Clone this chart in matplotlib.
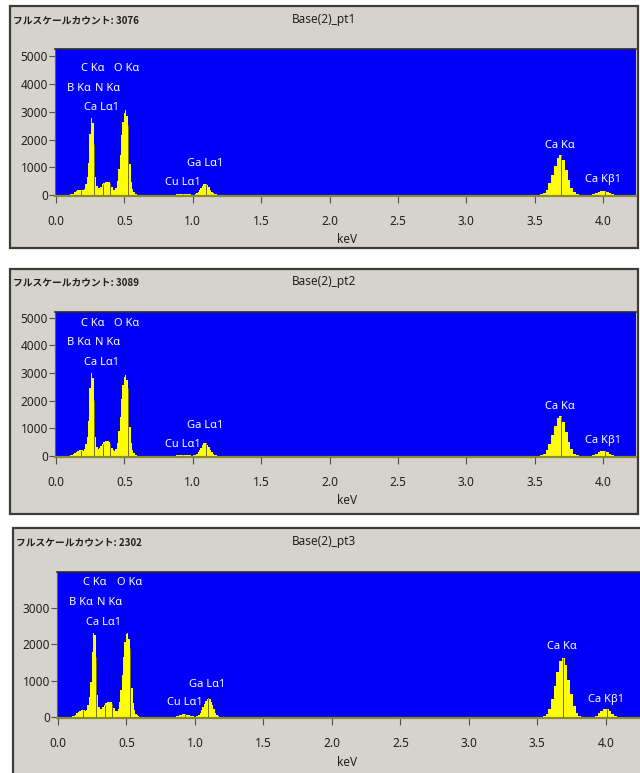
import numpy as np
import matplotlib
matplotlib.use('Agg')
import matplotlib.pyplot as plt
from matplotlib.patches import Rectangle

# spectrum channels (keV) -- four regions where the spectrum is above zero
E_A = np.round(0.10 + 0.01 * np.arange(51), 2)   # 0.10 .. 0.60
E_B = np.round(0.86 + 0.01 * np.arange(35), 2)   # 0.86 .. 1.20
E_C = np.round(3.53 + 0.02 * np.arange(16), 2)   # 3.53 .. 3.83
E_D = np.round(3.91 + 0.02 * np.arange(10), 2)   # 3.91 .. 4.09

# counts, pt1
pt1_A = [10, 15, 30, 50, 90, 140, 170, 180, 190, 180,
         170, 220, 380, 650, 1150, 2200, 2780, 2600, 1500, 650,
         320, 250, 260, 300, 380, 430, 470, 480, 480, 450,
         380, 270, 190, 170, 260, 500, 950, 1450, 2150, 2650,
         2950, 3060, 2850, 2200, 1100, 480, 230, 110, 50, 20, 5]
pt1_B = [0, 10, 20, 30, 40, 45, 50, 50, 45, 40, 30, 25, 15, 10, 5,
         10, 30, 60, 110, 180, 260, 330, 380, 400, 390, 340, 270, 190,
         120, 70, 35, 15, 5, 0, 0]
pt1_C = [5, 20, 70, 190, 420, 720, 1050, 1350, 1440, 1250, 900, 540, 260, 90, 25, 5]
pt1_D = [5, 25, 70, 120, 150, 150, 115, 65, 20, 5]

# counts, pt2
pt2_A = [15, 25, 40, 70, 110, 150, 180, 200, 210, 200,
         190, 240, 420, 700, 1250, 2450, 3000, 2800, 1700, 700,
         330, 260, 280, 340, 430, 490, 530, 540, 540, 500,
         420, 290, 200, 170, 250, 480, 900, 1400, 2050, 2550,
         2850, 2920, 2750, 2150, 1050, 470, 220, 100, 45, 15, 5]
pt2_B = [0, 10, 20, 30, 40, 45, 45, 45, 40, 35, 30, 20, 15, 10, 5,
         15, 35, 70, 130, 210, 300, 390, 450, 480, 470, 410, 320, 220,
         140, 80, 40, 15, 5, 0, 0]
pt2_C = [5, 25, 80, 200, 430, 740, 1080, 1370, 1440, 1240, 880, 520, 250, 85, 20, 5]
pt2_D = [5, 30, 85, 145, 180, 175, 130, 75, 25, 5]

# counts, pt3
pt3_A = [10, 20, 35, 60, 100, 140, 170, 190, 190, 180,
         170, 200, 330, 550, 950, 1800, 2320, 2250, 1400, 600,
         280, 220, 230, 270, 330, 380, 410, 420, 420, 400,
         340, 250, 170, 150, 220, 400, 750, 1150, 1650, 2050,
         2280, 2300, 2150, 1650, 800, 380, 180, 90, 40, 15, 5]
pt3_B = [5, 15, 30, 45, 60, 70, 70, 70, 65, 55, 45, 30, 20, 15, 10,
         15, 30, 60, 110, 180, 260, 350, 430, 490, 515, 490, 420, 320,
         210, 120, 60, 25, 10, 0, 0]
pt3_C = [5, 30, 90, 230, 490, 840, 1230, 1540, 1620, 1420, 1020, 620, 300, 100, 25, 5]
pt3_D = [5, 35, 100, 170, 205, 210, 160, 90, 30, 5]

titles = ['Base(2)_pt1', 'Base(2)_pt2', 'Base(2)_pt3']
full_scale = [3076, 3089, 2302]

# element lines (keV) and their labels
line_names = ['B Kα', 'C Kα', 'Ca Lα1', 'N Kα', 'O Kα', 'Cu Lα1', 'Ga Lα1', 'Ca Kα', 'Ca Kβ1']
line_kev = [0.183, 0.277, 0.341, 0.392, 0.525, 0.930, 1.098, 3.690, 4.012]
label_kev = [0.165, 0.27, 0.335, 0.38, 0.52, 0.925, 1.092, 3.68, 4.0]
# label heights (counts) per panel
label_y = [
    [3860, 4580, 3140, 3860, 4580, 430, 1150, 1800, 540],
    [4080, 4770, 3360, 4080, 4770, 400, 1100, 1800, 540],
    [3140, 3690, 2590, 3140, 3690, 385, 880, 1930, 470],
]

yticks = [[0, 1000, 2000, 3000, 4000, 5000],
          [0, 1000, 2000, 3000, 4000, 5000],
          [0, 1000, 2000, 3000]]
xticks = [0.0, 0.5, 1.0, 1.5, 2.0, 2.5, 3.0, 3.5, 4.0]

spectra = [(pt1_A, pt1_B, pt1_C, pt1_D),
           (pt2_A, pt2_B, pt2_C, pt2_D),
           (pt3_A, pt3_B, pt3_C, pt3_D)]

# layout in pixels (top-left origin): box, plot area, text rows
W, H = 640, 773
layout = [
    dict(box=(10, 6, 638, 248), plot=(55, 49, 636, 196), head=20, keV=240,
         xlim=(-0.007, 4.24), ylim=(-40, 5270)),
    dict(box=(10, 269, 638, 514), plot=(55, 312, 636, 457), head=282, keV=501,
         xlim=(-0.007, 4.24), ylim=(-40, 5200)),
    dict(box=(13, 528, 648, 800), plot=(57, 572, 640, 718), head=542, keV=763,
         xlim=(-0.007, 4.25), ylim=(-30, 3990)),
]

FONT = ['Noto Sans', 'DejaVu Sans']
JFONT = ['Noto Sans CJK JP', 'DejaVu Sans']
STRETCH = 'condensed'
BLUE = '#0000fa'
YELLOW = '#ffff00'
PANEL = '#d6d3cc'


def fx(x):
    return x / W


def fy(y):
    return 1 - y / H


fig = plt.figure(figsize=(6.4, 7.73), dpi=100)
fig.patch.set_facecolor('white')

for i, lay in enumerate(layout):
    x0, y0, x1, y1 = lay['box']
    fig.add_artist(Rectangle((fx(x0), fy(y1)), (x1 - x0) / W, (y1 - y0) / H,
                             transform=fig.transFigure, facecolor=PANEL,
                             edgecolor='#3c3c3c', linewidth=1.6, zorder=0))

    fig.text(fx(x0 + 3), fy(lay['head']), f'フルスケールカウント: {full_scale[i]}',
             family=JFONT, fontsize=7, fontweight='bold', color='#202020',
             ha='left', va='center')
    fig.text(fx(324), fy(lay['head']), titles[i], family=FONT, stretch=STRETCH,
             fontsize=8.5, color='#202020', ha='center', va='center')

    px0, py0, px1, py1 = lay['plot']
    ax = fig.add_axes([fx(px0), fy(py1), (px1 - px0) / W, (py1 - py0) / H])
    ax.set_facecolor(BLUE)

    a, b, c, d = spectra[i]
    for e, cnt in zip([E_A, E_B, E_C, E_D], [a, b, c, d]):
        ax.fill_between(e, cnt, 0, step='mid', color=YELLOW, linewidth=0, zorder=2)

    # element marker lines up to the spectrum height
    e_all = np.concatenate([E_A, E_B, E_C, E_D])
    c_all = np.concatenate([a, b, c, d]).astype(float)
    heights = np.interp(line_kev, e_all, c_all)
    ax.vlines(line_kev, 0, heights, color='#6e6e10', linewidth=0.7, zorder=3)

    for name, lx, ly in zip(line_names, label_kev, label_y[i]):
        ax.text(lx, ly, name, family=FONT, stretch=STRETCH, fontsize=8,
                color='white', ha='center', va='center', zorder=4)

    ax.set_xlim(*lay['xlim'])
    ax.set_ylim(*lay['ylim'])
    ax.set_xticks(xticks)
    ax.set_xticklabels([f'{t:.1f}' for t in xticks])
    ax.set_yticks(yticks[i])
    ax.set_yticklabels([str(t) for t in yticks[i]])
    ax.tick_params(axis='x', direction='out', length=5, width=0.8, color='#505050',
                   pad=9, labelsize=8.5, labelcolor='#202020')
    ax.tick_params(axis='y', direction='out', length=4, width=0.8, color='#505050',
                   pad=1, labelsize=8.5, labelcolor='#202020')
    for lab in ax.get_xticklabels() + ax.get_yticklabels():
        lab.set_family(FONT)
        lab.set_stretch(STRETCH)
        lab.set_fontweight('bold')

    ax.spines['top'].set_color('#2a2a2a')
    ax.spines['top'].set_linewidth(1.2)
    ax.spines['left'].set_color('#606060')
    ax.spines['left'].set_linewidth(0.8)
    ax.spines['right'].set_visible(False)
    ax.spines['bottom'].set_color('#8c8c28')
    ax.spines['bottom'].set_linewidth(1.6)

    fig.text(fx(347), fy(lay['keV']), 'keV', family=FONT, stretch=STRETCH,
             fontsize=8.5, fontweight='bold', color='#202020',
             ha='center', va='center')

fig.savefig('out.png', dpi=100)
